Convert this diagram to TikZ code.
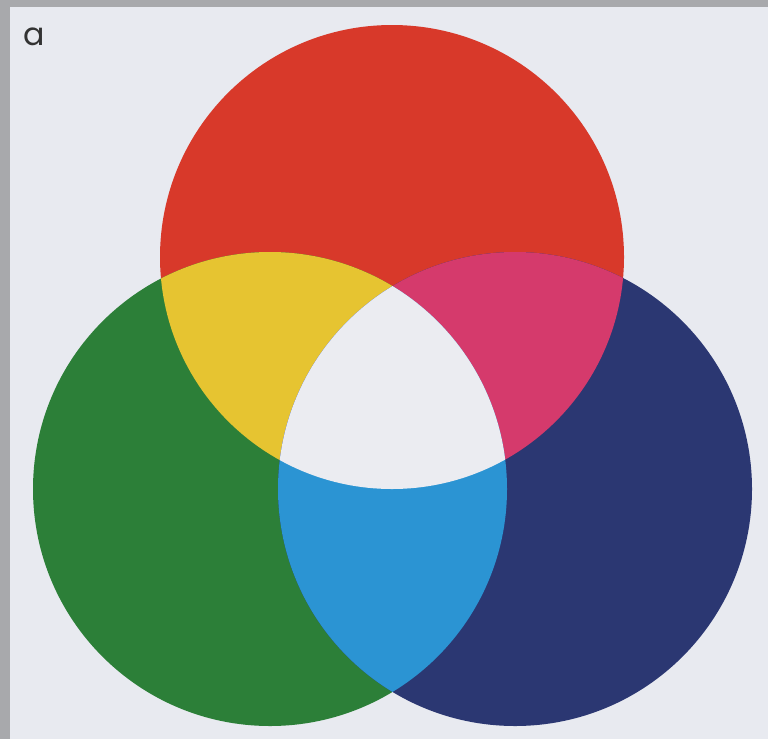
\documentclass[tikz,border=0pt]{standalone}
\usepackage{fontspec}
\setmainfont{Poppins}
\definecolor{cframe}{HTML}{A8A9AC}
\definecolor{cpaper}{HTML}{E8EAF0}
\definecolor{cred}{HTML}{D8392A}
\definecolor{cgreen}{HTML}{2C7F38}
\definecolor{cblue}{HTML}{2B3772}
\definecolor{cyellow}{HTML}{E6C431}
\definecolor{cmagenta}{HTML}{D53A6C}
\definecolor{ccyan}{HTML}{2B94D3}
\definecolor{cwhite}{HTML}{EBECF1}
\tikzset{
  lbl/.style={font=\small,text=black!80,inner sep=0pt},
}
\begin{document}
\begin{tikzpicture}
  \useasboundingbox (0,0) rectangle (7.68,-7.39);
  \fill[cframe] (0,0) rectangle (7.68,-7.39);
  \fill[cpaper] (0.10,-0.07) rectangle (7.68,-7.39);
  \node[lbl] (tag) at (0.34,-0.37) {a};
  % the three lights
  \coordinate (r) at (3.92,-2.57);
  \coordinate (g) at (2.70,-4.89);
  \coordinate (b) at (5.15,-4.89);
  \fill[cred]   (r) circle (2.32);
  \fill[cgreen] (g) circle (2.37);
  \fill[cblue]  (b) circle (2.37);
  % two-colour overlaps
  \begin{scope}
    \clip (r) circle (2.32);
    \fill[cyellow]  (g) circle (2.37);
    \fill[cmagenta] (b) circle (2.37);
  \end{scope}
  \begin{scope}
    \clip (g) circle (2.37);
    \fill[ccyan] (b) circle (2.37);
    % all three
    \clip (b) circle (2.37);
    \fill[cwhite] (r) circle (2.32);
  \end{scope}
\end{tikzpicture}
\end{document}
